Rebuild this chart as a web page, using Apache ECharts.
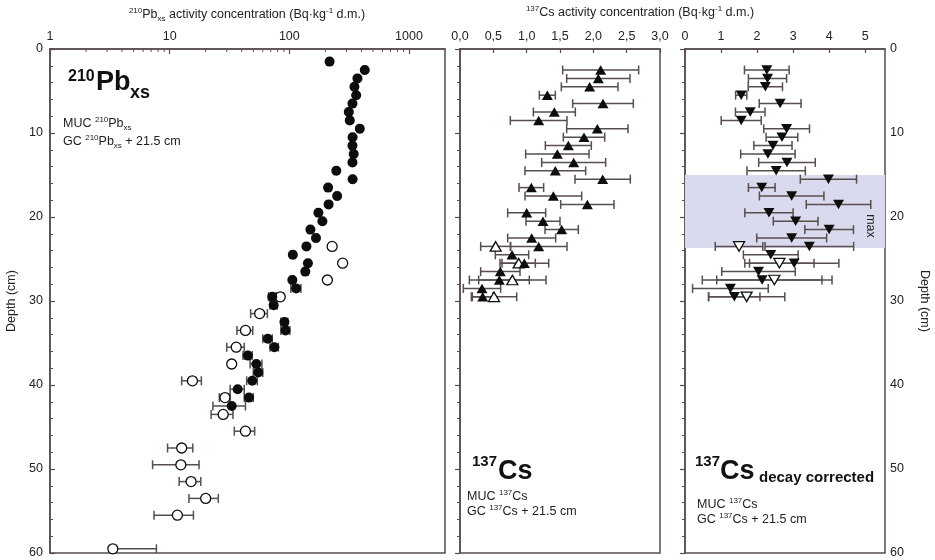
<!DOCTYPE html>
<html>
<head>
<meta charset="utf-8">
<script src="https://cdn.jsdelivr.net/npm/echarts@6/dist/echarts.min.js"></script>
<style>
  html, body { margin: 0; padding: 0; background: #fff; }
  #chart { width: 935px; height: 560px; }
</style>
</head>
<body>
<div id="chart"></div>
<script>
// ---- 210Pb excess, multicorer (MUC): depth (cm), activity (Bq/kg d.m.), +/- error
const pbMucDepth = [1.5, 2.5, 3.5, 4.5, 5.5, 6.5, 7.5, 8.5, 9.5, 10.5, 11.5, 12.5, 13.5, 14.5, 15.5,
  16.5, 17.5, 18.5, 19.5, 20.5, 21.5, 22.5, 23.5, 24.5, 25.5, 26.5, 27.5, 28.5, 29.5, 30.5,
  32.5, 33.5, 34.5, 35.5, 36.5, 37.5, 38.5, 39.5, 40.5, 41.5, 42.5];
const pbMucValue = [217, 427, 371, 350, 362, 337, 314, 320, 388, 338, 337, 345, 337, 247, 338,
  211, 251, 213, 175, 189, 150, 167, 139, 107, 143, 136, 106, 114, 72, 74,
  91, 93, 66, 75, 45, 53, 55, 49, 37, 46, 33];
const pbMucError = [8, 14, 12, 11, 12, 11, 10, 10, 13, 11, 11, 11, 11, 8, 11,
  7, 8, 7, 6, 6, 5, 6, 5, 4, 5, 5, 4, 11, 5, 5,
  6, 8, 6, 6, 4, 6, 5, 5, 5, 4, 10];

// ---- 210Pb excess, gravity core (GC), depth shifted by +21.5 cm
const pbGcDepth = [23.5, 25.5, 27.5, 29.5, 31.5, 33.5, 35.5, 37.5, 39.5, 41.5, 43.5, 45.5,
  47.5, 49.5, 51.5, 53.5, 55.5, 59.5];
const pbGcValue = [228, 279, 208, 84, 56.5, 43, 36, 33, 15.5, 29, 28, 43,
  12.6, 12.4, 15.1, 20, 11.6, 3.35];
const pbGcError = [8, 10, 8, 5, 9, 6.5, 6, 1.5, 2.9, 3, 5.8, 8.3,
  3, 5.2, 3.1, 5.5, 4.2, 4.4];

// ---- 137Cs, MUC
const csMucDepth = [2.5, 3.5, 4.5, 5.5, 6.5, 7.5, 8.5, 9.5, 10.5, 11.5, 12.5, 13.5, 14.5, 15.5,
  16.5, 17.5, 18.5, 19.5, 20.5, 21.5, 22.5, 23.5, 24.5, 25.5, 26.5, 27.5, 28.5, 29.5];
const csMucValue = [2.11, 2.075, 1.945, 1.31, 2.145, 1.415, 1.18, 2.06, 1.86, 1.625, 1.46, 1.705, 1.43, 2.14,
  1.07, 1.40, 1.91, 1.0, 1.245, 1.525, 1.075, 1.18, 0.78, 0.965, 0.605, 0.59, 0.33, 0.34];
const csMucError = [0.57, 0.475, 0.425, 0.12, 0.455, 0.315, 0.425, 0.46, 0.31, 0.345, 0.475, 0.48, 0.455, 0.415,
  0.185, 0.425, 0.40, 0.285, 0.255, 0.25, 0.36, 0.425, 0.25, 0.365, 0.295, 0.45, 0.28, 0.155];

// ---- 137Cs, GC (+21.5 cm)
const csGcDepth = [23.5, 25.5, 27.5, 29.5];
const csGcValue = [0.535, 0.88, 0.785, 0.51];
const csGcError = [0.225, 0.25, 0.505, 0.34];

// ---- 137Cs decay corrected, MUC
const csDcMucValue = [2.27, 2.29, 2.23, 1.56, 2.64, 1.81, 1.56, 2.82, 2.69, 2.44, 2.30, 2.83, 2.53, 3.98,
  2.13, 2.96, 4.26, 2.33, 3.07, 4.0, 2.96, 3.45, 2.38, 3.03, 2.04, 2.14, 1.26, 1.37];
const csDcMucError = [0.62, 0.53, 0.475, 0.155, 0.58, 0.41, 0.555, 0.635, 0.44, 0.53, 0.755, 0.785, 0.81, 0.78,
  0.37, 0.895, 0.895, 0.67, 0.62, 0.675, 0.97, 1.23, 0.76, 1.24, 1.02, 1.66, 1.05, 0.71];

// ---- 137Cs decay corrected, GC (+21.5 cm)
const csDcGcValue = [1.5, 2.62, 2.48, 1.71];
const csDcGcError = [0.66, 0.96, 1.6, 1.06];

// depth interval of the 137Cs maximum (cm)
const csMaxRange = [15, 23.7];

// minor tick values of the log axis
const pbMinorTicks = [2, 3, 4, 5, 6, 7, 8, 9, 20, 30, 40, 50, 60, 70, 80, 90,
  200, 300, 400, 500, 600, 700, 800, 900];

const FRAME = '#574e4d';
const INK = '#0d0d0d';
const FONT = 'Liberation Sans, Arial, sans-serif';

function points(depth, value) {
  return depth.map((d, i) => [value[i], d]);
}
function bars(depth, value, err) {
  return depth.map((d, i) => [value[i] - err[i], value[i] + err[i], d, value[i]]);
}

// horizontal error bar with end caps; the low end stops at the marker when it falls off a log axis
function renderErrorBar(params, api) {
  const depth = api.value(2);
  const c = api.coord([api.value(3), depth]);
  const hi = api.coord([api.value(1), depth]);
  const lo = api.coord([api.value(0), depth]);
  const loOk = isFinite(lo[0]);
  const x0 = loOk ? lo[0] : c[0];
  const cap = 4.5;
  const style = { stroke: FRAME, lineWidth: 1.5 };
  const children = [
    { type: 'line', shape: { x1: x0, y1: c[1], x2: hi[0], y2: c[1] }, style },
    { type: 'line', shape: { x1: hi[0], y1: c[1] - cap, x2: hi[0], y2: c[1] + cap }, style }
  ];
  if (loOk) {
    children.push({ type: 'line', shape: { x1: lo[0], y1: c[1] - cap, x2: lo[0], y2: c[1] + cap }, style });
  }
  return { type: 'group', children };
}

// short ticks hanging from the top edge of the log axis
function renderMinorTick(params, api) {
  const p = api.coord([api.value(0), 0]);
  return { type: 'line', shape: { x1: p[0], y1: p[1], x2: p[0], y2: p[1] + 3 },
    style: { stroke: FRAME, lineWidth: 1 } };
}

function errorSeries(x, y, data) {
  return { type: 'custom', xAxisIndex: x, yAxisIndex: y, renderItem: renderErrorBar,
    data, encode: { x: [0, 1, 3], y: 2 }, z: 2, silent: true, clip: false };
}
function markerSeries(x, y, data, opts) {
  return Object.assign({ type: 'scatter', xAxisIndex: x, yAxisIndex: y, data, z: 3, silent: true,
    symbol: 'circle', symbolSize: 10, itemStyle: { color: INK, opacity: 1 } }, opts);
}
const openStyle = { color: '#fff', borderColor: INK, borderWidth: 1.3, opacity: 1 };
const TRI = [11, 9.5];

const labelStyle = { color: '#222', fontSize: 12.5, fontFamily: FONT };
const lineStyle = { color: FRAME, width: 1.5 };

function depthAxis(grid, position, showLabels, extra) {
  return Object.assign({
    type: 'value', gridIndex: grid, position, inverse: true, min: 0, max: 60, interval: 10,
    axisLine: { show: true, lineStyle },
    axisTick: { show: true, inside: true, length: 5, lineStyle: { color: FRAME, width: 1.2 } },
    minorTick: { show: true, splitNumber: 5, length: 3, lineStyle: { color: FRAME, width: 1 } },
    axisLabel: Object.assign({ show: showLabels, margin: position === 'left' ? 7 : 5 }, labelStyle),
    splitLine: { show: false }
  }, extra || {});
}

const sup = { fontSize: 8, verticalAlign: 'top', lineHeight: 9, fill: '#222', fontFamily: FONT };
const sub = { fontSize: 8, verticalAlign: 'bottom', lineHeight: 9, fill: '#222', fontFamily: FONT };
const norm = { fontSize: 12.5, lineHeight: 16, fill: '#222', fontFamily: FONT };

function richText(x, y, text, align) {
  return { type: 'text', x, y, silent: true, style: {
    text, align: align || 'left', verticalAlign: 'middle', fontFamily: FONT, fontSize: 12.5,
    fill: '#222', rich: { n: norm, sup, sub } } };
}
function plainText(x, y, text, size, weight, align) {
  return { type: 'text', x, y, silent: true, style: {
    text, align: align || 'left', verticalAlign: 'middle', fontFamily: FONT,
    fontSize: size, fontWeight: weight || 'normal', fill: '#111' } };
}

const option = {
  backgroundColor: '#fff',
  animation: false,
  grid: [
    { left: 50, top: 49, width: 395, height: 504, show: true, borderColor: FRAME, borderWidth: 1.5, backgroundColor: 'transparent' },
    { left: 460, top: 49, width: 200, height: 504, show: true, borderColor: FRAME, borderWidth: 1.5, backgroundColor: 'transparent' },
    { left: 685, top: 49, width: 200, height: 504, show: true, borderColor: FRAME, borderWidth: 1.5, backgroundColor: 'transparent' }
  ],
  xAxis: [
    { type: 'log', gridIndex: 0, position: 'top', logBase: 10, min: 1, max: 2000,
      axisLine: { show: true, lineStyle },
      axisTick: { show: true, inside: true, length: 5, lineStyle: { color: FRAME, width: 1.2 } },
      axisLabel: Object.assign({ margin: 6, showMaxLabel: false,
        formatter: v => String(Math.round(v)) }, labelStyle),
      splitLine: { show: false } },
    { type: 'value', gridIndex: 1, position: 'top', min: 0, max: 3, interval: 0.5,
      axisLine: { show: true, lineStyle },
      axisTick: { show: true, inside: true, length: 4, lineStyle: { color: FRAME, width: 1.2 } },
      axisLabel: Object.assign({ margin: 6, formatter: v => v.toFixed(1).replace('.', ',') }, labelStyle),
      splitLine: { show: false } },
    { type: 'value', gridIndex: 2, position: 'top', min: 0, max: 5.55, interval: 1,
      axisLine: { show: true, lineStyle },
      axisTick: { show: true, inside: true, length: 4, lineStyle: { color: FRAME, width: 1.2 } },
      axisLabel: Object.assign({ margin: 6, showMaxLabel: false }, labelStyle),
      splitLine: { show: false } }
  ],
  yAxis: [
    depthAxis(0, 'left', true, { name: 'Depth (cm)', nameLocation: 'middle', nameGap: 32,
      nameTextStyle: { color: '#222', fontSize: 12.5, fontFamily: FONT } }),
    depthAxis(1, 'right', false),
    depthAxis(2, 'right', true, { name: 'Depth (cm)', nameLocation: 'middle', nameGap: 33, nameRotate: -90,
      nameTextStyle: { color: '#222', fontSize: 12.5, fontFamily: FONT } })
  ],
  series: [
    { type: 'custom', xAxisIndex: 0, yAxisIndex: 0, renderItem: renderMinorTick,
      data: pbMinorTicks.map(v => [v, 0]), z: 4, silent: true, clip: false },

    errorSeries(0, 0, bars(pbMucDepth, pbMucValue, pbMucError)),
    errorSeries(0, 0, bars(pbGcDepth, pbGcValue, pbGcError)),
    markerSeries(0, 0, points(pbGcDepth, pbGcValue), { itemStyle: openStyle }),
    markerSeries(0, 0, points(pbMucDepth, pbMucValue)),

    errorSeries(1, 1, bars(csMucDepth, csMucValue, csMucError)),
    errorSeries(1, 1, bars(csGcDepth, csGcValue, csGcError)),
    markerSeries(1, 1, points(csGcDepth, csGcValue), { symbol: 'triangle', symbolSize: TRI, itemStyle: openStyle }),
    markerSeries(1, 1, points(csMucDepth, csMucValue), { symbol: 'triangle', symbolSize: TRI }),

    Object.assign(errorSeries(2, 2, bars(csMucDepth, csDcMucValue, csDcMucError)), {
      markArea: { silent: true, itemStyle: { color: '#dadaee' }, label: { show: false },
        data: [[{ yAxis: csMaxRange[0] }, { yAxis: csMaxRange[1] }]] } }),
    errorSeries(2, 2, bars(csGcDepth, csDcGcValue, csDcGcError)),
    markerSeries(2, 2, points(csGcDepth, csDcGcValue), { symbol: 'triangle', symbolSize: TRI, symbolRotate: 180, itemStyle: openStyle }),
    markerSeries(2, 2, points(csMucDepth, csDcMucValue), { symbol: 'triangle', symbolSize: TRI, symbolRotate: 180 })
  ],
  graphic: [
    // axis titles
    richText(247, 15, '{sup|210}{n|Pb}{sub|xs}{n| activity concentration (Bq·kg}{sup|-1}{n| d.m.)}', 'center'),
    richText(640, 13, '{sup|137}{n|Cs activity concentration (Bq·kg}{sup|-1}{n| d.m.)}', 'center'),

    // 210Pb panel heading and legend
    plainText(68, 77, '210', 16, 'bold'),
    plainText(96, 83, 'Pb', 27, 'bold'),
    plainText(130, 93, 'xs', 18, 'bold'),
    richText(63, 124, '{n|MUC }{sup|210}{n|Pb}{sub|xs}'),
    richText(63, 142, '{n|GC }{sup|210}{n|Pb}{sub|xs}{n| + 21.5 cm}'),

    // 137Cs panel heading and legend
    plainText(472, 462, '137', 15, 'bold'),
    plainText(498, 472, 'Cs', 27, 'bold'),
    richText(467, 497, '{n|MUC }{sup|137}{n|Cs}'),
    richText(467, 512, '{n|GC }{sup|137}{n|Cs + 21.5 cm}'),

    // decay corrected panel heading and legend
    plainText(695, 462, '137', 15, 'bold'),
    plainText(720, 472, 'Cs', 27, 'bold'),
    plainText(759, 478, 'decay corrected', 15, 'bold'),
    richText(697, 505, '{n|MUC }{sup|137}{n|Cs}'),
    richText(697, 520, '{n|GC }{sup|137}{n|Cs + 21.5 cm}'),

    // label of the shaded 137Cs maximum
    { type: 'text', x: 870, y: 226, rotation: -Math.PI / 2, silent: true, z: 10,
      style: { text: 'max', align: 'center', verticalAlign: 'middle', fontFamily: FONT,
        fontSize: 12.5, fill: '#222' } }
  ]
};

const chart = echarts.init(document.getElementById('chart'));
chart.setOption(option);
</script>
</body>
</html>
